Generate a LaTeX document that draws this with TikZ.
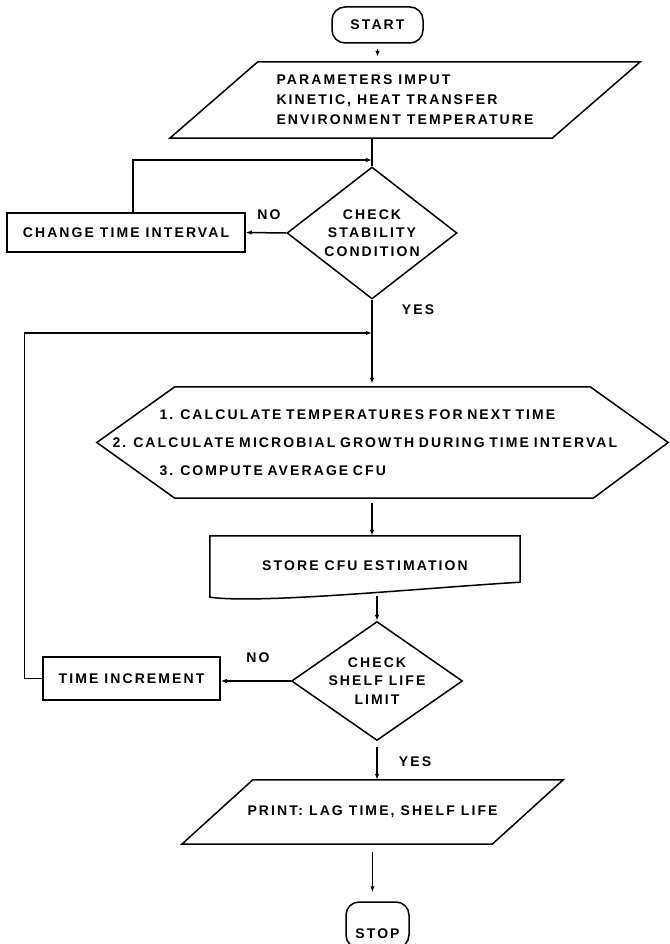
\documentclass[tikz,border=0pt]{standalone}
\usepackage{fontspec}
\setmainfont{Liberation Sans}[LetterSpace=15]
\usetikzlibrary{arrows.meta, shapes.geometric}

\begin{document}
\begin{tikzpicture}[
  x=1pt, y=-1pt,
  every node/.style={font=\bfseries\fontsize{14}{18.5}\selectfont},
  term/.style={draw, line width=1.5pt, rounded corners=13pt, inner sep=0pt},
  box/.style={draw, line width=1.5pt, inner sep=0pt},
  plain/.style={inner sep=0pt},
  test/.style={draw, diamond, line width=1.5pt, inner sep=0pt, align=center},
  wire/.style={line width=1.5pt},
  flow/.style={-{Latex[length=6pt,width=4.5pt]}, line width=1.5pt}
]
  \useasboundingbox (0,0) rectangle (669,944);

  \node[term, minimum width=91pt, minimum height=36pt] (start) at (377.5,25) {START};
  \node[plain, minimum width=470pt, minimum height=76pt, align=left, font=\bfseries\fontsize{14}{20}\selectfont] (param) at (405,100)
    {PARAMETERS IMPUT\\KINETIC, HEAT TRANSFER\\ENVIRONMENT TEMPERATURE};
  \draw[wire] ([xshift=88pt]param.north west) -- (param.north east) -- ([xshift=-88pt]param.south east) -- (param.south west) -- cycle;
  \draw[flow, shorten <=5pt, shorten >=5pt] (start.south) -- (start.south |- param.north);

  \node[test, aspect=1.3, minimum width=170pt, minimum height=132pt] (stab) at (372,233) {CHECK\\STABILITY\\CONDITION};
  \node[box, minimum width=238pt, minimum height=39pt] (chg) at (126,232.5) {CHANGE TIME INTERVAL};
  \node[plain] (no1) at (269,215) {NO};
  \node[plain] (yes1) at (418,310) {YES};
  \coordinate (j1) at (372,160);
  \draw[wire] (stab.north |- param.south) -- (stab.north);
  \draw[flow] (stab.west) -- (chg.east);
  \draw[flow] ([xshift=7pt]chg.north) |- (j1);

  \node[plain, minimum width=571pt, minimum height=111pt, text width=540pt, align=left, font=\bfseries\fontsize{14}{28}\selectfont] (calc) at (382.5,442.5)
    {\hspace*{47pt}1. CALCULATE TEMPERATURES FOR NEXT TIME\\2. CALCULATE MICROBIAL GROWTH DURING TIME INTERVAL\\\hspace*{47pt}3. COMPUTE AVERAGE CFU};
  \draw[wire] (calc.west) -- ([xshift=78pt]calc.north west) -- ([xshift=-78pt]calc.north east) -- (calc.east)
    -- ([xshift=-75pt]calc.south east) -- ([xshift=78pt]calc.south west) -- cycle;
  \coordinate (j2) at (372,333);
  \draw[flow, shorten >=3pt] (stab.south) -- (stab.south |- calc.north);

  \node[plain, minimum width=310pt, minimum height=60pt] (store) at (365,566) {STORE CFU ESTIMATION};
  \draw[wire] (store.north west) -- (store.north east) -- ([yshift=14pt]store.south east)
    .. controls ([xshift=-100pt,yshift=8pt]store.south east) and ([xshift=50pt,yshift=-8pt]store.south west) .. ([yshift=-1pt]store.south west) -- cycle;
  \draw[flow, shorten <=5pt] (j2 |- calc.south) -- (j2 |- store.north);

  \node[test, aspect=1.44, minimum width=171pt, minimum height=119pt] (shelf) at (377,681) {CHECK\\SHELF LIFE\\LIMIT};
  \draw[flow] (shelf.north |- store.south) -- (shelf.north);
  \node[box, minimum width=177pt, minimum height=43pt] (tinc) at (131.5,678.5) {TIME INCREMENT};
  \node[plain] (no2) at (258,658) {NO};
  \draw[flow] (shelf.west) -- (shelf.west -| tinc.east);
  \draw[flow] (tinc.west) -- ++(-18,0) |- (j2);

  \node[plain, minimum width=381pt, minimum height=64pt] (print) at (372.5,812) {PRINT: LAG TIME, SHELF LIFE};
  \draw[wire] ([xshift=71pt]print.north west) -- (print.north east) -- ([xshift=-71pt]print.south east) -- (print.south west) -- cycle;
  \node[plain] (yes2) at (415,762) {YES};
  \draw[flow, shorten <=6pt] (shelf.south) -- (shelf.south |- print.north);

  \node[term, minimum width=63pt, minimum height=46pt, text height=26pt, text depth=0pt] (stop) at (377.5,925) {STOP};
  \draw[flow, shorten <=8pt, shorten >=9pt] (print.south) -- (print.south |- stop.north);
\end{tikzpicture}
\end{document}
